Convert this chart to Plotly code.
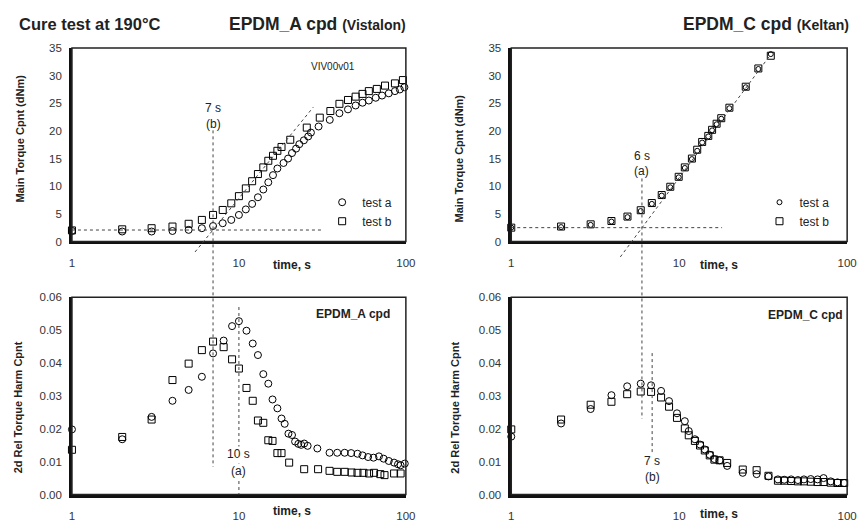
import math
import plotly.graph_objects as go

# ---------------- data ----------------
# EPDM_A main torque (top-left)
ta_A_top = [1, 2, 3, 4, 5, 6, 7, 8, 9, 10, 11, 12, 13, 14, 15, 16, 17, 18.5, 19.7, 20.8,
            22, 23, 24.5, 26, 27, 30, 35, 40, 45, 50, 55, 60, 66, 72, 79, 86, 92, 98]
va_A_top = [1.9, 1.8, 1.8, 1.9, 2.1, 2.4, 2.8, 3.3, 3.9, 4.8, 5.8, 6.8, 8.0, 9.4, 10.7, 12.0,
            13.2, 14.2, 15.0, 16.0, 16.8, 17.6, 18.3, 19.0, 19.7, 20.8, 22.0, 23.2, 23.9,
            24.6, 25.1, 25.5, 26.0, 26.4, 26.8, 27.2, 27.5, 27.9]
tb_A_top = [1, 2, 3, 4, 5, 6, 7, 8, 9, 10, 11, 12, 13, 14, 15, 16, 17, 18, 20.3, 25.5,
            30.5, 35.3, 40, 45, 50, 55, 60, 67, 75, 86, 96]
vb_A_top = [2.0, 2.2, 2.4, 2.7, 3.2, 3.9, 4.8, 5.7, 6.9, 8.2, 9.6, 10.9, 12.2, 13.4, 14.6,
            15.5, 16.4, 17.1, 18.4, 20.6, 22.4, 23.6, 24.9, 25.6, 26.2, 26.7, 27.2, 27.6,
            28.2, 28.6, 29.2]

# EPDM_A 2nd harmonic (bottom-left)
ta_A_bot = [1, 2, 3, 4, 5, 6, 7, 8.1, 9.1, 10, 11.1, 12.1, 13, 14, 15, 15.9, 17, 18, 18.8,
            19.8, 20.8, 21.7, 22.7, 23.6, 24.6, 25.8, 29.5, 34.9, 38.8, 43, 47, 51.3, 55,
            59.4, 64, 69, 73.6, 79, 85, 89.7, 93, 98.5]
va_A_bot = [0.0198, 0.0168, 0.0236, 0.0285, 0.0318, 0.0358, 0.0429, 0.0468, 0.0512, 0.0527,
            0.0498, 0.0459, 0.0424, 0.0366, 0.0337, 0.0289, 0.0262, 0.0231, 0.0215, 0.0185,
            0.0181, 0.0161, 0.0154, 0.0151, 0.0155, 0.0148, 0.0140, 0.0127, 0.0127, 0.0127,
            0.0126, 0.0124, 0.0119, 0.0114, 0.0112, 0.0116, 0.0109, 0.0102, 0.0097, 0.0092,
            0.0089, 0.0094]
tb_A_bot = [1, 2, 3, 4, 5, 6, 7, 8.1, 9.1, 10, 11.1, 12.1, 13, 14, 15, 15.9, 17, 18, 20,
            24.6, 29.8, 34.9, 38.8, 43, 47.3, 51.3, 55.7, 60.2, 64.5, 70.3, 74.5, 85, 93]
vb_A_bot = [0.0136, 0.0175, 0.0228, 0.0348, 0.0398, 0.0439, 0.0465, 0.0448, 0.0411, 0.0383,
            0.0324, 0.0285, 0.0225, 0.0218, 0.0165, 0.0163, 0.0126, 0.0126, 0.0097, 0.0077,
            0.0077, 0.0072, 0.0069, 0.0069, 0.0067, 0.0066, 0.0066, 0.0064, 0.0066, 0.0062,
            0.0059, 0.0064, 0.0064]

# EPDM_C main torque (top-right)
t_C_top = [1, 1.98, 2.97, 3.95, 4.92, 5.9, 6.87, 7.87, 8.85, 9.93, 10.8, 11.9, 12.8, 13.7,
           14.9, 15.7, 16.7, 17.8, 19.9, 24.9, 29.6, 35.1]
vb_C_top = [2.5, 2.7, 3.1, 3.7, 4.5, 5.65, 6.95, 8.4, 9.9, 11.7, 13.4, 15.0, 16.6, 18.0,
            19.1, 20.2, 21.3, 22.3, 24.2, 28.0, 31.3, 33.6]
va_C_top = [2.5, 2.6, 3.0, 3.6, 4.4, 5.5, 6.8, 8.3, 9.8, 11.6, 13.3, 14.9, 16.4, 17.9,
            19.0, 20.1, 21.2, 22.2, 24.1, 27.9, 31.2, 33.9]

# EPDM_C 2nd harmonic (bottom-right)
t_C_bot = [1, 1.98, 2.97, 3.95, 4.9, 5.9, 6.8, 7.8, 8.7, 9.7, 10.8, 11.4, 12.4, 13.3, 14.2,
           15.2, 16.2, 17.4, 19.3, 23.9, 28.9, 34, 38.7, 42.2, 46.4, 50.9, 55.3, 60.7, 66.7,
           72.4, 79.8, 87.6, 96]
va_C_bot = [0.0176, 0.0216, 0.0260, 0.0302, 0.0329, 0.0337, 0.0332, 0.0315, 0.0284, 0.0247,
            0.0223, 0.0193, 0.0168, 0.0152, 0.0137, 0.0121, 0.0108, 0.0104, 0.0087, 0.0066,
            0.0062, 0.0055, 0.0046, 0.0045, 0.0046, 0.0044, 0.0046, 0.0047, 0.0046, 0.0050,
            0.0040, 0.0037, 0.0035]
vb_C_bot = [0.0198, 0.0228, 0.0273, 0.0282, 0.0305, 0.0313, 0.0312, 0.0295, 0.0267, 0.0233,
            0.0201, 0.0180, 0.0163, 0.0149, 0.0134, 0.0119, 0.0106, 0.0104, 0.0096, 0.0076,
            0.0074, 0.0057, 0.0042, 0.0042, 0.0041, 0.0040, 0.0040, 0.0039, 0.0038, 0.0038,
            0.0036, 0.0035, 0.0035]

x_ticks = [1, 10, 100]
x_tick_labels = ["1", "10", "100"]

# ---------------- layout geometry ----------------
W, H = 867, 523
XD_L = [70 / W, 409 / W]
XD_R = [516 / W, 857 / W]
YD_T = [1 - 241 / H, 1 - 43 / H]
YD_B = [1 - 500 / H, 1 - 298 / H]
YR_T = [0, 35]
YR_B = [0, 0.06]

FONT = "Liberation Sans, Arial, sans-serif"
INK = "#222222"


def to_paper(xd, yd, yr, t, v):
    px = xd[0] + (math.log10(t) - 0) / 2 * (xd[1] - xd[0])
    py = yd[0] + (v - yr[0]) / (yr[1] - yr[0]) * (yd[1] - yd[0])
    return px, py


fig = go.Figure()

panels = [
    ("x", "y", ta_A_top, va_A_top, tb_A_top, vb_A_top, "legend", True, 7, 7),
    ("x2", "y2", t_C_top, va_C_top, t_C_top, vb_C_top, "legend2", True, 5, 7),
    ("x3", "y3", ta_A_bot, va_A_bot, tb_A_bot, vb_A_bot, "legend", False, 7, 7),
    ("x4", "y4", t_C_bot, va_C_bot, t_C_bot, vb_C_bot, "legend2", False, 7, 7),
]
for xa, ya, t_a, v_a, t_b, v_b, leg, show, csz, ssz in panels:
    fig.add_trace(go.Scatter(
        x=t_b, y=v_b, mode="markers", name="test b", xaxis=xa, yaxis=ya,
        marker=dict(symbol="square-open", size=ssz, color="black", line=dict(width=1)),
        cliponaxis=False, showlegend=show, legend=leg, legendrank=2))
    fig.add_trace(go.Scatter(
        x=t_a, y=v_a, mode="markers", name="test a", xaxis=xa, yaxis=ya,
        marker=dict(symbol="circle-open", size=csz, color="black", line=dict(width=1)),
        cliponaxis=False, showlegend=show, legend=leg, legendrank=1))

axis_common = dict(type="log", range=[0, 2], tickvals=x_ticks, ticktext=x_tick_labels,
                   showgrid=False, zeroline=False, showline=True, linewidth=2.5,
                   linecolor="#111", ticks="", ticklabelstandoff=9,
                   tickfont=dict(family=FONT, size=11.5, color="#333"))
y_common = dict(showgrid=False, zeroline=False, showline=True, linewidth=2.5,
                linecolor="#111", ticks="", ticklabelstandoff=5,
                tickfont=dict(family=FONT, size=11.5, color="#333"))

fig.update_layout(
    width=W, height=H, margin=dict(l=0, r=0, t=0, b=0),
    paper_bgcolor="white", plot_bgcolor="white",
    xaxis=dict(domain=XD_L, anchor="y", **axis_common),
    yaxis=dict(domain=YD_T, anchor="x", range=YR_T, dtick=5, **y_common),
    xaxis2=dict(domain=XD_R, anchor="y2", **axis_common),
    yaxis2=dict(domain=YD_T, anchor="x2", range=YR_T, dtick=5, **y_common),
    xaxis3=dict(domain=XD_L, anchor="y3", **axis_common),
    yaxis3=dict(domain=YD_B, anchor="x3", range=YR_B, dtick=0.01, tickformat=".2f", **y_common),
    xaxis4=dict(domain=XD_R, anchor="y4", **axis_common),
    yaxis4=dict(domain=YD_B, anchor="x4", range=YR_B, dtick=0.01, tickformat=".2f", **y_common),
    legend=dict(x=324 / W, y=1 - 186 / H, xanchor="left", yanchor="top",
                bgcolor="rgba(0,0,0,0)", font=dict(family=FONT, size=12, color=INK),
                itemwidth=30, tracegroupgap=0),
    legend2=dict(x=768 / W, y=1 - 186 / H, xanchor="left", yanchor="top",
                 bgcolor="rgba(0,0,0,0)", font=dict(family=FONT, size=12, color=INK),
                 itemwidth=30, tracegroupgap=0),
    showlegend=True,
)

# frames (thin top/right borders)
shapes = []
for xa, ya in [("x", "y"), ("x2", "y2"), ("x3", "y3"), ("x4", "y4")]:
    shapes.append(dict(type="rect", xref=f"{xa} domain", yref=f"{ya} domain",
                       x0=0, x1=1, y0=0, y1=1, line=dict(color="#222", width=1.5)))


def seg(xd1, yd1, yr1, t1, v1, xd2, yd2, yr2, t2, v2):
    x0, y0 = to_paper(xd1, yd1, yr1, t1, v1)
    x1, y1 = to_paper(xd2, yd2, yr2, t2, v2)
    return dict(type="line", xref="paper", yref="paper", x0=x0, y0=y0, x1=x1, y1=y1,
                line=dict(color="#444", width=1, dash="dot"))


# EPDM_A reference lines
onset_A, base_A = 7, 2.07
shapes.append(seg(XD_L, YD_T, YR_T, 1, base_A, XD_L, YD_T, YR_T, 31, base_A))
shapes.append(seg(XD_L, YD_T, YR_T, 5.46, -1.9, XD_L, YD_T, YR_T, 27.9, 24.3))
shapes.append(seg(XD_L, YD_T, YR_T, onset_A, 20.1, XD_L, YD_B, YR_B, onset_A, 0.0084))
shapes.append(seg(XD_L, YD_B, YR_B, 10, 0.057, XD_L, YD_B, YR_B, 10, 0.0))

# EPDM_C reference lines
onset_C, base_C = 6, 2.5
shapes.append(seg(XD_R, YD_T, YR_T, 1, base_C, XD_R, YD_T, YR_T, 18, base_C))
shapes.append(seg(XD_R, YD_T, YR_T, 4.46, -2.8, XD_R, YD_T, YR_T, 35, 33.8))
shapes.append(seg(XD_R, YD_T, YR_T, onset_C, 11.4, XD_R, YD_B, YR_B, onset_C, 0.023))
shapes.append(seg(XD_R, YD_B, YR_B, 6.9, 0.043, XD_R, YD_B, YR_B, 6.9, 0.0125))
fig.update_layout(shapes=shapes)

ann = []


def txt(text, x, y, xref="paper", yref="paper", size=12, bold=False, xanchor="center",
        yanchor="middle", angle=0, bg=None, color=INK):
    d = dict(text=(f"<b>{text}</b>" if bold else text), x=x, y=y, xref=xref, yref=yref,
             showarrow=False, xanchor=xanchor, yanchor=yanchor, textangle=angle,
             font=dict(family=FONT, size=size, color=color))
    if bg:
        d["bgcolor"] = bg
        d["borderpad"] = 0
    ann.append(d)


# titles
txt("Cure test at 190°C", 14 / W, 1 - 18 / H, size=16.5, bold=True, xanchor="left")
ann.append(dict(text="<b>EPDM_A cpd</b> <b><span style='font-size:14px'>(Vistalon)</span></b>",
                x=411 / W, y=1 - 18 / H, xref="paper", yref="paper", showarrow=False,
                xanchor="right", yanchor="middle",
                font=dict(family=FONT, size=17.5, color=INK)))
ann.append(dict(text="<b>EPDM_C cpd</b> <b><span style='font-size:14px'>(Keltan)</span></b>",
                x=861 / W, y=1 - 18 / H, xref="paper", yref="paper", showarrow=False,
                xanchor="right", yanchor="middle",
                font=dict(family=FONT, size=17.5, color=INK)))

# y-axis titles
txt("Main Torque Cpnt (dNm)", 17 / W, 1 - 136 / H, size=11, bold=True, angle=-90)
txt("Main Torque Cpnt (dNm)", 463 / W, 1 - 156 / H, size=11, bold=True, angle=-90)
txt("2d Rel Torque Harm Cpnt", 15 / W, 1 - 411 / H, size=11, bold=True, angle=-90)
txt("2d Rel Torque Harm Cpnt", 458 / W, 1 - 411 / H, size=11, bold=True, angle=-90)

# x-axis titles
txt("time, s", math.log10(20.7), -0.12, xref="x", yref="y domain", size=12, bold=True)
txt("time, s", math.log10(17.3), -0.12, xref="x2", yref="y2 domain", size=12, bold=True)
txt("time, s", math.log10(20.7), -0.085, xref="x3", yref="y3 domain", size=12, bold=True)
txt("time, s", math.log10(17.3), -0.10, xref="x4", yref="y4 domain", size=12, bold=True)

# panel tags
txt("VIV00v01", math.log10(36.6), 31.6, xref="x", yref="y", size=10)
txt("EPDM_A cpd", math.log10(48), 0.055, xref="x3", yref="y3", size=12, bold=True)
txt("EPDM_C cpd", math.log10(56.7), 0.0545, xref="x4", yref="y4", size=12, bold=True)

# onset labels
txt("7 s", math.log10(onset_A), 24.2, xref="x", yref="y", size=12)
txt("(b)", math.log10(onset_A), 21.3, xref="x", yref="y", size=12)
txt("6 s", math.log10(onset_C), 15.4, xref="x2", yref="y2", size=12)
txt("(a)", math.log10(onset_C), 12.7, xref="x2", yref="y2", size=12)
txt("10 s", math.log10(10), 0.0124, xref="x3", yref="y3", size=12, bg="white")
txt("(a)", math.log10(10), 0.0073, xref="x3", yref="y3", size=12, bg="white")
txt("7 s", math.log10(6.9), 0.0101, xref="x4", yref="y4", size=12)
txt("(b)", math.log10(6.9), 0.0052, xref="x4", yref="y4", size=12)

fig.update_layout(annotations=ann)
fig.write_html("out.html")
